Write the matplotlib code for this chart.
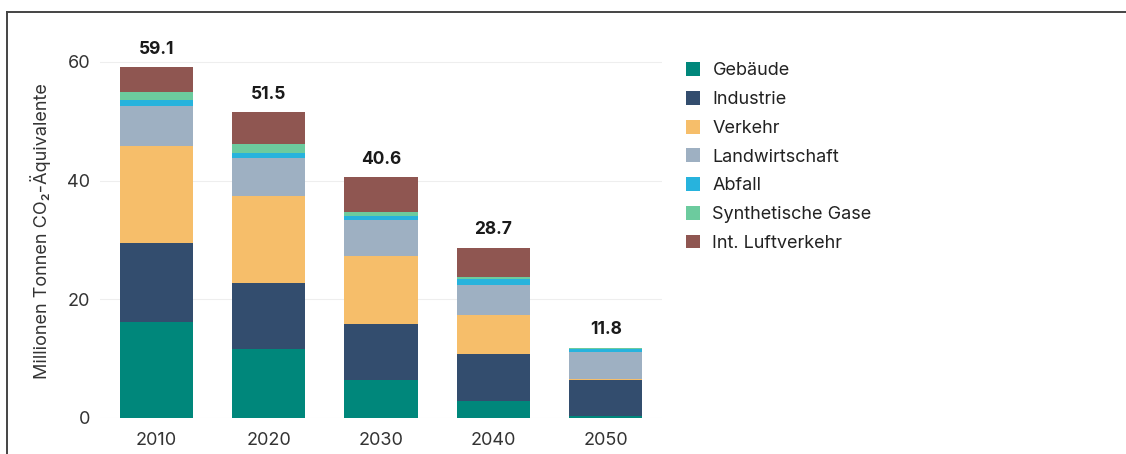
import matplotlib
matplotlib.use("Agg")
import matplotlib.pyplot as plt
from matplotlib.lines import Line2D
from matplotlib.patches import Patch
import numpy as np

plt.rcParams['font.family'] = ['Inter', 'DejaVu Sans']

years = ["2010", "2020", "2030", "2040", "2050"]
totals = [59.1, 51.5, 40.6, 28.7, 11.8]
categories = ["Gebäude", "Industrie", "Verkehr", "Landwirtschaft", "Abfall",
              "Synthetische Gase", "Int. Luftverkehr"]
gebaeude = [16.2, 11.6, 6.4, 2.9, 0.3]
industrie = [13.3, 11.1, 9.4, 7.9, 6.1]
verkehr = [16.3, 14.8, 11.5, 6.6, 0.1]
landwirtschaft = [6.8, 6.3, 6.0, 5.0, 4.6]
abfall = [1.0, 0.8, 0.8, 1.0, 0.5]
synth_gase = [1.4, 1.6, 0.6, 0.3, 0.2]
luftverkehr = [4.1, 5.3, 5.9, 5.0, 0.0]
series = [gebaeude, industrie, verkehr, landwirtschaft, abfall, synth_gase, luftverkehr]
colors = ["#00877B", "#334D6E", "#F6BE6A", "#9EB0C2", "#27B3DD", "#6CCB9E", "#8F5651"]

W, H = 1126, 454
fig = plt.figure(figsize=(W / 100, H / 100), dpi=100)
ax = fig.add_axes([100 / W, (H - 418) / H, 562 / W, (418 - 44.2) / H])

x = np.arange(len(years))
bottom = np.zeros(len(years))
for vals, col, name in zip(series, colors, categories):
    ax.bar(x, vals, width=0.65, bottom=bottom, color=col, label=name, zorder=3)
    bottom += np.array(vals)

for xi, t in zip(x, totals):
    ax.text(xi, t + 1.6, f"{t}", ha="center", va="bottom", fontsize=12.5,
            fontweight="bold", color="#1a1a1a")

ax.set_xlim(-0.5, 4.5)
ax.set_ylim(0, 63)
ax.set_yticks([0, 20, 40, 60])
ax.set_xticks(x)
ax.set_xticklabels(years)
ax.tick_params(axis="both", length=0, labelsize=13, colors="#333333")
ax.tick_params(axis="x", pad=10)
ax.tick_params(axis="y", pad=7)
ax.grid(axis="y", color="#eeeeee", linewidth=0.8, zorder=0)
for s in ax.spines.values():
    s.set_visible(False)
ax.set_ylabel("Millionen Tonnen CO₂-Äquivalente", fontsize=13, color="#333333", labelpad=12)

handles = [Patch(facecolor=c, edgecolor="none") for c in colors]
fig.legend(handles, categories, loc="upper left", bbox_to_anchor=(670 / W, (H - 46) / H),
           frameon=False, fontsize=13, handlelength=0.75, handleheight=0.8,
           handletextpad=0.7, labelspacing=0.64, labelcolor="#222222")

# frame lines
fig.add_artist(Line2D([7 / W, 1.0], [(H - 12) / H, (H - 12) / H], color="#444444", linewidth=1.4,
                      transform=fig.transFigure))
fig.add_artist(Line2D([7 / W, 7 / W], [0, (H - 12) / H], color="#444444", linewidth=1.4,
                      transform=fig.transFigure))

fig.savefig("out.png", dpi=100)
